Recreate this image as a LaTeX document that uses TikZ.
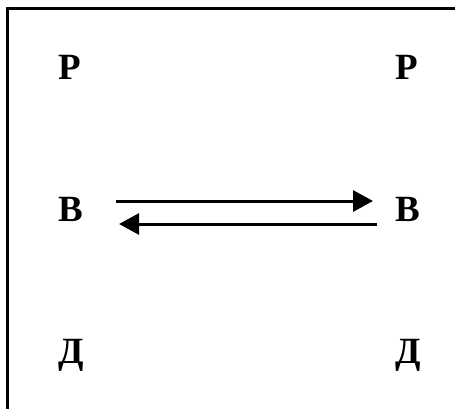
\documentclass[tikz,border=0pt]{standalone}
\usepackage{fontspec}
\setmainfont{Liberation Serif}
\usetikzlibrary{arrows.meta}
\begin{document}
\begin{tikzpicture}[x=1pt,y=-1pt,
  letter/.style={inner sep=0pt,anchor=base west,font=\fontsize{37}{40}\selectfont\bfseries},
  frame/.style={line width=3pt},
  link/.style={line width=3pt,-{Triangle[length=20pt,width=21pt]}}]
\useasboundingbox (0,0) rectangle (455,409);
\draw[frame] (7.5,409) -- (7.5,8.5) -- (455,8.5);
\node[letter] (pl) at (58,80) {Р};
\node[letter] (pr) at (395,80) {Р};
\node[letter] (bl) at (58,221) {В};
\node[letter] (br) at (395,221) {В};
\node[letter] (dl) at (58,363) {Д};
\node[letter] (dr) at (395,363) {Д};
\coordinate (a1) at ([xshift=33pt]bl.east |- 0,201);
\coordinate (a2) at ([xshift=-22pt]br.west |- 0,201);
\coordinate (b1) at ([xshift=-18pt]br.west |- 0,224);
\coordinate (b2) at ([xshift=36pt]bl.east |- 0,224);
\draw[link] (a1) -- (a2);
\draw[link] (b1) -- (b2);
\end{tikzpicture}
\end{document}
